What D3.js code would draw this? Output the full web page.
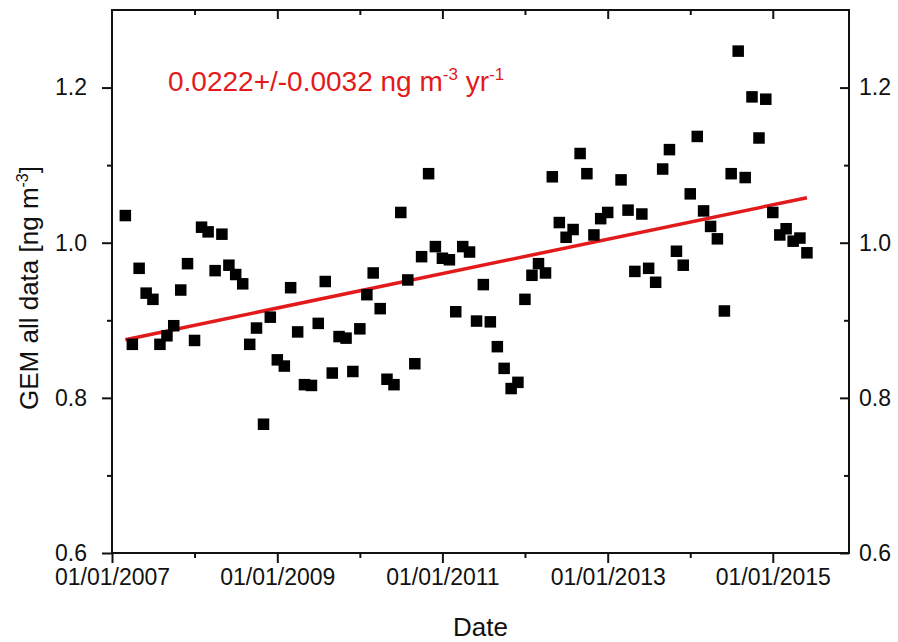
<!DOCTYPE html>
<html>
<head>
<meta charset="utf-8">
<script src="https://cdn.jsdelivr.net/npm/d3@7"></script>
<style>
  body { margin: 0; background: #fff; }
  svg text { font-family: "Liberation Sans", Arial, sans-serif; fill: #111; }
</style>
</head>
<body>
<svg id="chart"></svg>
<script>
// monthly GEM means (month of sample, value in ng m-3)
const months = [
  "2007-03","2007-04","2007-05","2007-06","2007-07","2007-08","2007-09","2007-10","2007-11","2007-12",
  "2008-01","2008-02","2008-03","2008-04","2008-05","2008-06","2008-07","2008-08","2008-09","2008-10","2008-11","2008-12",
  "2009-01","2009-02","2009-03","2009-04","2009-05","2009-06","2009-07","2009-08","2009-09","2009-10","2009-11","2009-12",
  "2010-01","2010-02","2010-03","2010-04","2010-05","2010-06","2010-07","2010-08","2010-09","2010-10","2010-11","2010-12",
  "2011-01","2011-02","2011-03","2011-04","2011-05","2011-06","2011-07","2011-08","2011-09","2011-10","2011-11","2011-12",
  "2012-01","2012-02","2012-03","2012-04","2012-05","2012-06","2012-07","2012-08","2012-09","2012-10","2012-11","2012-12",
  "2013-01","2013-03","2013-04","2013-05","2013-06","2013-07","2013-08","2013-09","2013-10","2013-11","2013-12",
  "2014-01","2014-02","2014-03","2014-04","2014-05","2014-06","2014-07","2014-08","2014-09","2014-10","2014-11","2014-12",
  "2015-01","2015-02","2015-03","2015-04","2015-05","2015-06"
];
const gemValues = [
  1.035,0.869,0.967,0.935,0.927,0.869,0.880,0.893,0.939,0.973,
  0.874,1.020,1.014,0.964,1.011,0.971,0.959,0.947,0.869,0.890,0.766,0.904,
  0.849,0.841,0.942,0.885,0.817,0.816,0.896,0.950,0.832,0.879,0.877,0.834,
  0.889,0.933,0.961,0.915,0.824,0.817,1.039,0.952,0.844,0.982,1.089,0.995,
  0.980,0.978,0.911,0.995,0.988,0.899,0.946,0.898,0.866,0.838,0.812,0.820,
  0.927,0.958,0.973,0.961,1.085,1.026,1.007,1.017,1.115,1.089,1.010,1.031,
  1.039,1.081,1.042,0.963,1.037,0.967,0.949,1.095,1.120,0.989,0.971,
  1.063,1.137,1.041,1.021,1.005,0.912,1.089,1.247,1.084,1.188,1.135,1.185,
  1.039,1.010,1.018,1.002,1.006,0.987
];

// linear trend, end points
const trendDates = ["2007-03","2015-06"];
const trendValues = [0.875, 1.058];
const trendLabel = "0.0222+/-0.0032 ng m";

const majorYears = [2007, 2009, 2011, 2013, 2015];
const minorYears = [2008, 2010, 2012, 2014];
const yMajor = [0.6, 0.8, 1.0, 1.2];
const yMinor = [0.7, 0.9, 1.1];

const svgWidth = 898, svgHeight = 642;
const margin = { top: 10, right: 49, bottom: 89, left: 112 };
const width = svgWidth - margin.left - margin.right;
const height = svgHeight - margin.top - margin.bottom;

const parseMonth = d3.timeParse("%Y-%m");
const yearDate = y => new Date(y, 0, 1);
const fmtDate = d3.timeFormat("%d/%m/%Y");

const x = d3.scaleTime()
  .domain([new Date(2007, 0, 1), new Date(2015, 11, 4)])
  .range([0, width]);
const y = d3.scaleLinear().domain([0.6, 1.3]).range([height, 0]);

const svg = d3.select("#chart").attr("width", svgWidth).attr("height", svgHeight);
const g = svg.append("g").attr("transform", `translate(${margin.left},${margin.top})`);

function styleAxis(sel) {
  sel.select(".domain").remove();
  sel.selectAll("line").attr("stroke", "#111").attr("stroke-width", 2);
  sel.selectAll("text").style("font-size", "23px").attr("fill", "#111");
}

// bottom axis
g.append("g").attr("transform", `translate(0,${height})`)
  .call(d3.axisBottom(x).tickValues(minorYears.map(yearDate)).tickSize(5).tickFormat(""))
  .call(styleAxis);
g.append("g").attr("transform", `translate(0,${height})`)
  .call(d3.axisBottom(x).tickValues(majorYears.map(yearDate)).tickSize(10).tickPadding(6).tickFormat(fmtDate))
  .call(styleAxis);

// top axis, ticks inward
g.append("g")
  .call(d3.axisBottom(x).tickValues(minorYears.map(yearDate)).tickSize(5).tickFormat(""))
  .call(styleAxis);
g.append("g")
  .call(d3.axisBottom(x).tickValues(majorYears.map(yearDate).slice(1)).tickSize(9).tickFormat(""))
  .call(styleAxis);

// left axis
g.append("g")
  .call(d3.axisLeft(y).tickValues(yMinor).tickSize(5).tickFormat(""))
  .call(styleAxis);
g.append("g")
  .call(d3.axisLeft(y).tickValues(yMajor).tickSize(10).tickPadding(15).tickFormat(d3.format(".1f")))
  .call(styleAxis);

// right axis, ticks inward
g.append("g").attr("transform", `translate(${width},0)`)
  .call(d3.axisLeft(y).tickValues(yMinor).tickSize(5).tickFormat(""))
  .call(styleAxis);
g.append("g").attr("transform", `translate(${width},0)`)
  .call(d3.axisRight(y).tickValues(yMajor).tickSize(-9).tickPadding(10).tickFormat(d3.format(".1f")))
  .call(styleAxis);

// frame
g.append("rect")
  .attr("width", width).attr("height", height)
  .attr("fill", "none").attr("stroke", "#111").attr("stroke-width", 2);

// trend line
g.append("line")
  .attr("x1", x(parseMonth(trendDates[0]))).attr("y1", y(trendValues[0]))
  .attr("x2", x(parseMonth(trendDates[1]))).attr("y2", y(trendValues[1]))
  .attr("stroke", "#e31a1c").attr("stroke-width", 3.5);

// data squares
const sq = 11.5;
g.selectAll(".pt")
  .data(months.map((m, i) => ({ date: parseMonth(m), value: gemValues[i] })))
  .enter().append("rect")
  .attr("class", "pt")
  .attr("x", d => x(d.date) - sq / 2)
  .attr("y", d => y(d.value) - sq / 2)
  .attr("width", sq).attr("height", sq)
  .attr("fill", "#000");

// annotation
const ann = g.append("text")
  .attr("x", 168 - margin.left).attr("y", 91 - margin.top)
  .style("font-size", "28px").style("fill", "#e31a1c");
ann.append("tspan").text(trendLabel);
ann.append("tspan").attr("dy", -11).style("font-size", "17px").text("-3");
ann.append("tspan").attr("dy", 11).text(" yr");
ann.append("tspan").attr("dy", -11).style("font-size", "17px").text("-1");

// axis titles
svg.append("text")
  .attr("x", margin.left + width / 2).attr("y", 636)
  .attr("text-anchor", "middle").style("font-size", "26px")
  .text("Date");

const yt = svg.append("text")
  .attr("transform", `translate(38,288) rotate(-90)`)
  .attr("text-anchor", "middle").style("font-size", "26px");
yt.append("tspan").text("GEM all data [ng m");
yt.append("tspan").attr("dy", -10).style("font-size", "16px").text("-3");
yt.append("tspan").attr("dy", 10).text("]");
</script>
</body>
</html>
